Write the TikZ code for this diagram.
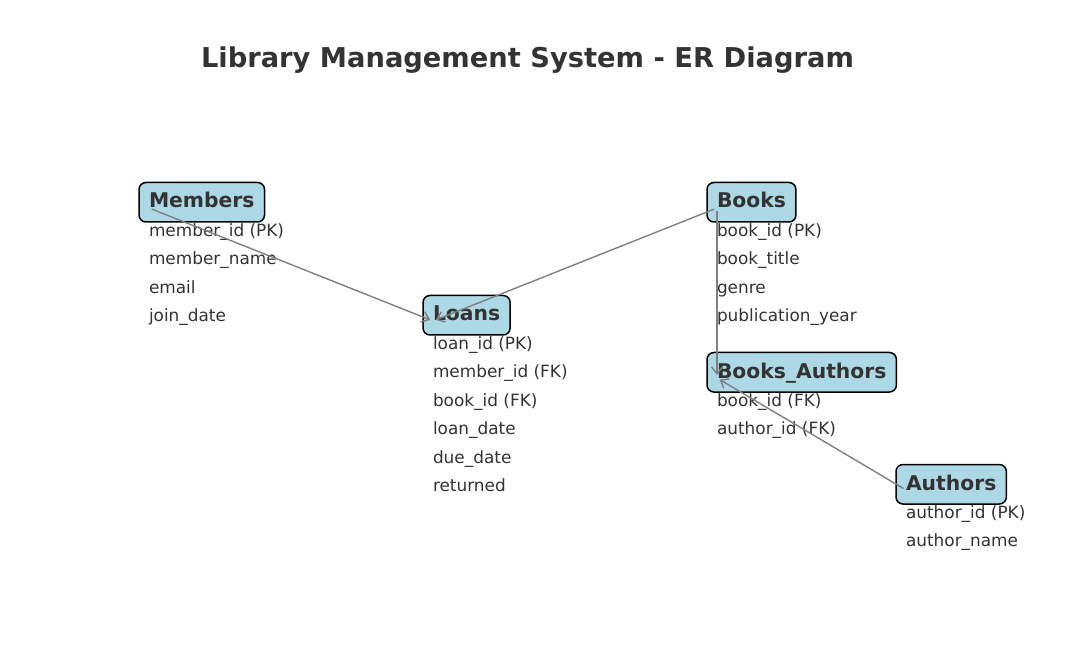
\documentclass[tikz,border=0pt]{standalone}
\usepackage{fontspec}
\setmainfont{DejaVu Sans}
\usetikzlibrary{calc,arrows.meta}
\definecolor{boxblue}{HTML}{ADD8E6}
\definecolor{inkgray}{HTML}{333333}

\begin{document}
\begin{tikzpicture}[x=1pt, y=-1pt,
    entity/.style={rectangle, draw=black, line width=1.5pt, fill=boxblue, rounded corners=7pt,
        font=\fontsize{20.3}{24}\selectfont\bfseries, text=inkgray,
        inner xsep=10pt, inner ysep=10pt, text height=15.5pt, text depth=4pt, anchor=text},
    attr/.style={font=\fontsize{16.9}{20}\selectfont, text=inkgray, inner sep=0pt, anchor=text},
    link/.style={draw=gray, line width=1.4pt, -{Straight Barb[length=7pt,width=11pt]},
        shorten >=3pt, shorten <=3pt}]
            \useasboundingbox (0,0) rectangle (1080,671);

            \node[font=\fontsize{27.3}{32}\selectfont\bfseries, text=inkgray] (title) at (527.5,60) {Library Management System - ER Diagram};

            % entities
            \node[entity] (members) at (149,208) {Members};
            \node[entity] (books) at (717,208) {Books};
            \node[entity] (loans) at (433,321) {Loans};
            \node[entity] (booksauthors) at (717,378) {Books\_Authors};
            \node[entity] (authors) at (906,490) {Authors};

            % attributes
            \foreach \a [count=\i] in {member\_id (PK), member\_name, email, join\_date}
                \node[attr] (members-\i) at (149,{208+28.4*\i}) {\a};
            \foreach \a [count=\i] in {book\_id (PK), book\_title, genre, publication\_year}
                \node[attr] (books-\i) at (717,{208+28.4*\i}) {\a};
            \foreach \a [count=\i] in {loan\_id (PK), member\_id (FK), book\_id (FK), loan\_date, due\_date, returned}
                \node[attr] (loans-\i) at (433,{321+28.4*\i}) {\a};
            \foreach \a [count=\i] in {book\_id (FK), author\_id (FK)}
                \node[attr] (booksauthors-\i) at (717,{378+28.4*\i}) {\a};
            \foreach \a [count=\i] in {author\_id (PK), author\_name}
                \node[attr] (authors-\i) at (906,{490+28.4*\i}) {\a};

            % relations
            \draw[link] (members.text) -- (loans.text);
            \draw[link] (books.text) -- (loans.text);
            \draw[link] (books.text) -- (booksauthors.text);
            \draw[link] (authors.text) -- (booksauthors.text);

        \end{tikzpicture}
\end{document}
